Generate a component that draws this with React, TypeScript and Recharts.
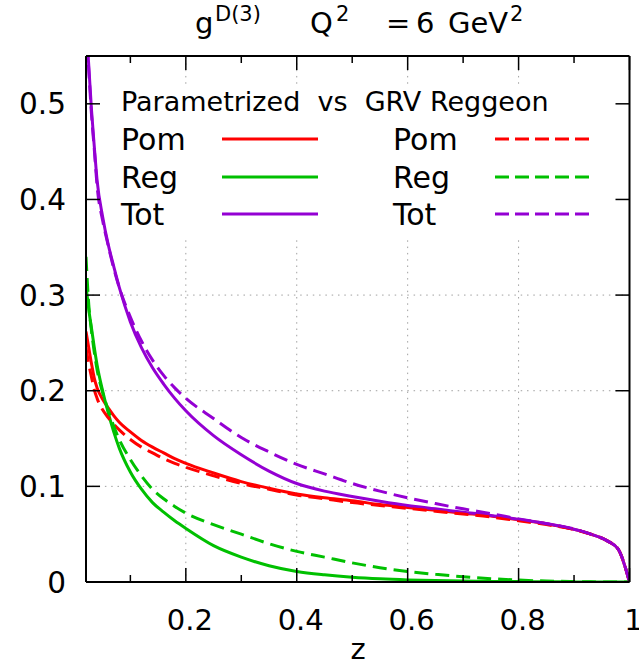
import React from 'react';
import { LineChart, Line, XAxis, YAxis, ReferenceLine } from 'recharts';

// z grid and the six curves
const zValues = [0.02, 0.025, 0.03, 0.035, 0.04, 0.05, 0.06, 0.07, 0.08, 0.1, 0.12, 0.14, 0.16, 0.18, 0.2, 0.25, 0.3, 0.35, 0.4, 0.45, 0.5, 0.55, 0.6, 0.65, 0.7, 0.75, 0.8, 0.85, 0.9, 0.93, 0.96, 0.98, 1];

const pomParam = [0.262, 0.245, 0.228, 0.213, 0.203, 0.191, 0.182, 0.174, 0.167, 0.157, 0.148, 0.141, 0.135, 0.129, 0.124, 0.114, 0.105, 0.098, 0.092, 0.088, 0.085, 0.081, 0.078, 0.075, 0.072, 0.069, 0.065, 0.061, 0.055, 0.05, 0.043, 0.034, 0];
const regParam = [0.31, 0.285, 0.265, 0.245, 0.227, 0.2, 0.177, 0.157, 0.14, 0.115, 0.097, 0.083, 0.073, 0.064, 0.056, 0.038, 0.026, 0.017, 0.011, 0.0075, 0.005, 0.0033, 0.0022, 0.0015, 0.001, 0.0006, 0.0004, 0.0002, 0.0001, 0, 0, 0, 0];
const totParam = [0.585, 0.54, 0.493, 0.455, 0.42, 0.382, 0.353, 0.33, 0.308, 0.272, 0.245, 0.224, 0.207, 0.192, 0.179, 0.153, 0.133, 0.116, 0.103, 0.095, 0.0895, 0.0845, 0.08, 0.0765, 0.073, 0.0696, 0.0654, 0.0612, 0.0551, 0.05, 0.043, 0.034, 0];

const pomGrv = [0.245, 0.228, 0.214, 0.201, 0.192, 0.18, 0.172, 0.165, 0.159, 0.149, 0.141, 0.135, 0.129, 0.124, 0.12, 0.111, 0.103, 0.097, 0.091, 0.087, 0.083, 0.08, 0.077, 0.074, 0.071, 0.068, 0.064, 0.06, 0.055, 0.05, 0.043, 0.034, 0];
const regGrv = [0.34, 0.29, 0.262, 0.24, 0.222, 0.198, 0.18, 0.163, 0.149, 0.128, 0.111, 0.097, 0.087, 0.079, 0.072, 0.06, 0.05, 0.04, 0.032, 0.026, 0.02, 0.015, 0.011, 0.008, 0.0055, 0.0035, 0.002, 0.001, 0.0005, 0.0002, 0, 0, 0];
const totGrv = [0.585, 0.535, 0.488, 0.452, 0.414, 0.378, 0.352, 0.328, 0.308, 0.277, 0.252, 0.232, 0.216, 0.203, 0.192, 0.171, 0.151, 0.136, 0.123, 0.113, 0.103, 0.095, 0.088, 0.082, 0.0765, 0.0715, 0.066, 0.061, 0.0555, 0.05, 0.043, 0.034, 0];

const majorXTicks = [0.2, 0.4, 0.6, 0.8, 1];
const minorXTicks = [0.1, 0.3, 0.5, 0.7, 0.9];
const yTicks = [0, 0.1, 0.2, 0.3, 0.4, 0.5];
const xGrid = [0.2, 0.4, 0.6, 0.8];
const yGrid = [0.1, 0.2, 0.3];

const RED = '#ff0000';
const GREEN = '#00c000';
const PURPLE = '#9400d3';
const FONT = '"DejaVu Sans", sans-serif';
const GRID = { stroke: '#a0a0a0', strokeWidth: 1, strokeDasharray: '1.5 4.8' };

const data = zValues.map((z, i) => ({
  z,
  pomParam: pomParam[i],
  regParam: regParam[i],
  totParam: totParam[i],
  pomGrv: pomGrv[i],
  regGrv: regGrv[i],
  totGrv: totGrv[i],
}));

const allXTicks = [...minorXTicks, ...majorXTicks].sort((a, b) => a - b);

const BottomTick = (props: any) => {
  const { x, y, payload } = props;
  const major = majorXTicks.includes(payload.value);
  return (
    <g>
      <line x1={x} x2={x} y1={y} y2={y - (major ? 14 : 7)} stroke="#000" strokeWidth={1.5} />
      {major && (
        <text x={x + 4} y={630} textAnchor="middle" fontSize={29} fontFamily={FONT} fill="#000">
          {String(payload.value)}
        </text>
      )}
    </g>
  );
};

const TopTick = (props: any) => {
  const { x, y, payload } = props;
  const major = majorXTicks.includes(payload.value);
  return <line x1={x} x2={x} y1={y} y2={y + (major ? 14 : 7)} stroke="#000" strokeWidth={1.5} />;
};

const LeftTick = (props: any) => {
  const { x, y, payload } = props;
  return (
    <g>
      <line x1={x} x2={x + 14} y1={y} y2={y} stroke="#000" strokeWidth={1.5} />
      <text x={66} y={y + 10.5} textAnchor="end" fontSize={29.5} fontFamily={FONT} fill="#000">
        {String(payload.value)}
      </text>
    </g>
  );
};

const RightTick = (props: any) => {
  const { x, y } = props;
  return <line x1={x} x2={x - 14} y1={y} y2={y} stroke="#000" strokeWidth={1.5} />;
};

const legendRows = [
  { label: 'Pom', color: RED, y: 139 },
  { label: 'Reg', color: GREEN, y: 177 },
  { label: 'Tot', color: PURPLE, y: 214 },
];

const Overlay = () => (
  <svg width={639} height={665} style={{ position: 'absolute', left: 0, top: 0, pointerEvents: 'none' }} fontFamily={FONT}>
    {/* title */}
    <text x={195} y={33} fontSize={29}>g</text>
    <text x={215} y={21} fontSize={21}>D(3)</text>
    <text x={310} y={33} fontSize={29}>Q</text>
    <text x={336} y={21} fontSize={21}>2</text>
    <text x={386} y={33} fontSize={29}>=</text>
    <text x={416} y={33} fontSize={29}>6</text>
    <text x={448} y={33} fontSize={29}>GeV</text>
    <text x={510} y={21} fontSize={21}>2</text>

    {/* key */}
    <text x={121} y={111} fontSize={27} style={{ whiteSpace: 'pre' }}>Parametrized  vs  GRV Reggeon</text>
    {legendRows.map((r) => (
      <g key={r.label}>
        <text x={121} y={r.y + 11} fontSize={30}>{r.label}</text>
        <line x1={222} x2={318} y1={r.y} y2={r.y} stroke={r.color} strokeWidth={3} />
        <text x={393} y={r.y + 11} fontSize={30}>{r.label}</text>
        <line x1={495} x2={590} y1={r.y} y2={r.y} stroke={r.color} strokeWidth={3} strokeDasharray="14 6" />
      </g>
    ))}

    {/* axis title */}
    <text x={358} y={659} fontSize={29} textAnchor="middle">z</text>
  </svg>
);

const axisLine = { stroke: '#000', strokeWidth: 2 };

const App = () => {
  return (
    <div style={{ position: 'absolute', left: 0, top: 0, width: 639, height: 665, background: '#fff' }}>
      <LineChart width={639} height={665} data={data} margin={{ top: 55, right: 8.5, bottom: 82, left: 85 }}>
        <XAxis
          dataKey="z"
          type="number"
          domain={[0.02, 1]}
          ticks={allXTicks}
          interval={0}
          allowDataOverflow
          height={1}
          tickSize={0}
          tickMargin={0}
          tickLine={false}
          axisLine={axisLine}
          tick={<BottomTick />}
        />
        <XAxis
          xAxisId="top"
          orientation="top"
          dataKey="z"
          type="number"
          domain={[0.02, 1]}
          ticks={allXTicks}
          interval={0}
          allowDataOverflow
          height={1}
          tickSize={0}
          tickMargin={0}
          tickLine={false}
          axisLine={axisLine}
          tick={<TopTick />}
        />
        <YAxis
          type="number"
          domain={[0, 0.55]}
          ticks={yTicks}
          interval={0}
          allowDataOverflow
          width={1}
          tickSize={0}
          tickMargin={0}
          tickLine={false}
          axisLine={axisLine}
          tick={<LeftTick />}
        />
        <YAxis
          yAxisId="right"
          orientation="right"
          type="number"
          domain={[0, 0.55]}
          ticks={yTicks}
          interval={0}
          allowDataOverflow
          width={1}
          tickSize={0}
          tickMargin={0}
          tickLine={false}
          axisLine={axisLine}
          tick={<RightTick />}
        />

        {/* dotted grid, hidden behind the key */}
        {xGrid.map((v) => (
          <ReferenceLine key={`gx-lo-${v}`} segment={[{ x: v, y: 0 }, { x: v, y: 0.361 }]} {...GRID} />
        ))}
        {xGrid.map((v) => (
          <ReferenceLine key={`gx-hi-${v}`} segment={[{ x: v, y: 0.521 }, { x: v, y: 0.55 }]} {...GRID} />
        ))}
        {yGrid.map((v) => (
          <ReferenceLine key={`gy-${v}`} y={v} {...GRID} />
        ))}

        <Line dataKey="pomParam" type="monotone" stroke={RED} strokeWidth={3} dot={false} isAnimationActive={false} />
        <Line dataKey="regParam" type="monotone" stroke={GREEN} strokeWidth={3} dot={false} isAnimationActive={false} />
        <Line dataKey="totParam" type="monotone" stroke={PURPLE} strokeWidth={3} dot={false} isAnimationActive={false} />
        <Line dataKey="pomGrv" type="monotone" stroke={RED} strokeWidth={3} strokeDasharray="14 7" dot={false} isAnimationActive={false} />
        <Line dataKey="regGrv" type="monotone" stroke={GREEN} strokeWidth={3} strokeDasharray="14 7" dot={false} isAnimationActive={false} />
        <Line dataKey="totGrv" type="monotone" stroke={PURPLE} strokeWidth={3} strokeDasharray="14 7" dot={false} isAnimationActive={false} />
      </LineChart>
      <Overlay />
    </div>
  );
};

export default App;
